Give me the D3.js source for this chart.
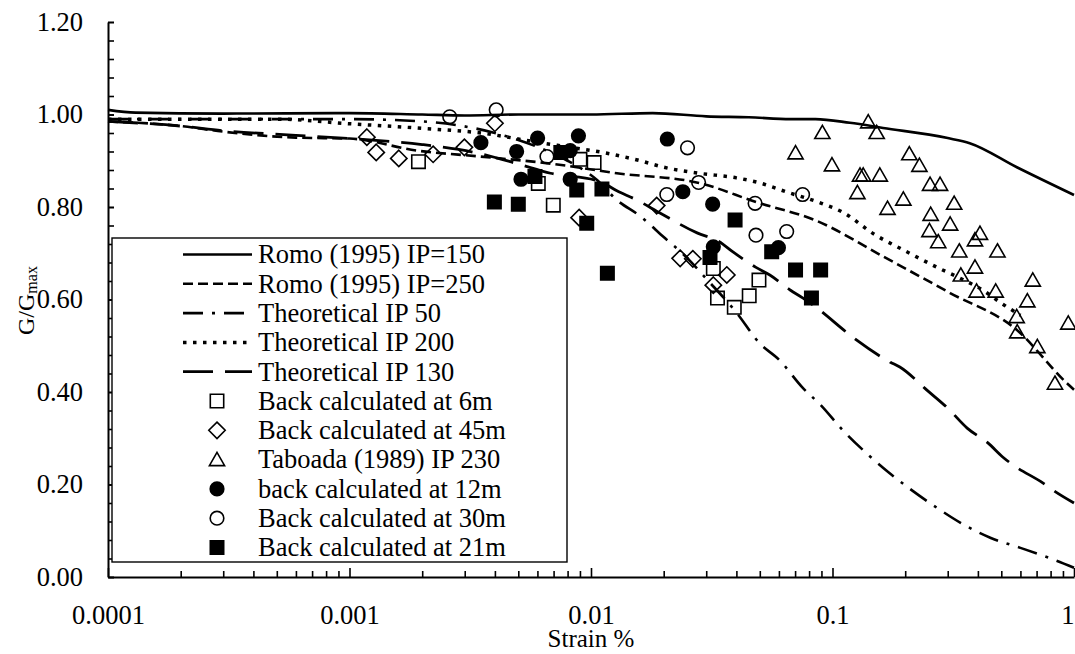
<!DOCTYPE html>
<html><head><meta charset="utf-8">
<script src="https://cdn.jsdelivr.net/npm/d3@7"></script>
<style>
body{margin:0;background:#fff}
svg{display:block}
text{font-family:"Liberation Serif","Times New Roman",serif;fill:#000}
</style>
</head><body>
<svg id="c" width="1075" height="654" font-family="Liberation Serif, Times New Roman, serif"></svg>
<script>
// ---------- data (strain %, G/Gmax) ----------
const romo150 = [[0.0001,1.01],[0.00013,1.004],[0.0003,1.002],[0.001,1.003],[0.002,1.0],[0.003,0.998],[0.005,1.0],[0.01,1.0],[0.018,1.003],[0.03,0.996],[0.045,0.994],[0.067,0.99],[0.085,0.99],[0.118,0.982],[0.162,0.971],[0.3,0.949],[0.37,0.938],[0.58,0.886],[1.0,0.826]];
const romo250 = [[0.0001,0.985],[0.0002,0.975],[0.0003,0.963],[0.0006,0.95],[0.001,0.948],[0.0019,0.922],[0.0035,0.909],[0.007,0.893],[0.0128,0.873],[0.028,0.852],[0.0487,0.81],[0.086,0.77],[0.162,0.693],[0.307,0.614],[0.58,0.534],[0.93,0.42],[1.0,0.405]];
const theo50 = [[0.0001,0.99],[0.0003,0.99],[0.001,0.99],[0.002,0.985],[0.004,0.96],[0.006,0.93],[0.008,0.9],[0.0105,0.86],[0.0128,0.815],[0.016,0.78],[0.02,0.735],[0.025,0.69],[0.03,0.645],[0.04,0.572],[0.05,0.505],[0.06,0.47],[0.075,0.41],[0.09,0.37],[0.11,0.318],[0.14,0.265],[0.17,0.227],[0.21,0.19],[0.27,0.15],[0.35,0.113],[0.45,0.085],[0.6,0.063],[0.8,0.04],[1.0,0.02]];
const theo200 = [[0.0001,0.99],[0.0005,0.99],[0.001,0.98],[0.002,0.97],[0.0035,0.96],[0.006,0.94],[0.0085,0.928],[0.012,0.915],[0.016,0.9],[0.02,0.886],[0.028,0.873],[0.04,0.863],[0.05,0.852],[0.065,0.832],[0.09,0.808],[0.11,0.789],[0.15,0.74],[0.2,0.705],[0.27,0.67],[0.35,0.642],[0.42,0.62],[0.5,0.592],[0.6,0.566]];
const theo130 = [[0.0001,0.985],[0.0002,0.975],[0.0003,0.965],[0.0006,0.955],[0.001,0.948],[0.002,0.935],[0.0035,0.915],[0.005,0.893],[0.0068,0.873],[0.0109,0.855],[0.0128,0.835],[0.0155,0.815],[0.0193,0.787],[0.0275,0.744],[0.034,0.725],[0.0387,0.703],[0.048,0.67],[0.055,0.653],[0.067,0.62],[0.0755,0.603],[0.086,0.582],[0.115,0.528],[0.126,0.512],[0.173,0.465],[0.19,0.454],[0.246,0.404],[0.3,0.365],[0.361,0.322],[0.44,0.29],[0.508,0.259],[0.56,0.242],[0.745,0.203],[0.818,0.188],[1.0,0.16]];

const bc6m = [[0.00193,0.898],[0.00605,0.851],[0.00698,0.804],[0.009,0.903],[0.0103,0.896],[0.0321,0.667],[0.0334,0.603],[0.0392,0.583],[0.0452,0.608],[0.0496,0.642]];
const bc45m = [[0.00118,0.951],[0.00129,0.918],[0.0016,0.905],[0.00222,0.914],[0.00299,0.929],[0.004,0.981],[0.00893,0.777],[0.0187,0.803],[0.0234,0.689],[0.0264,0.688],[0.0321,0.631],[0.0365,0.653]];
const taboada = [[0.0703,0.917],[0.0908,0.961],[0.0995,0.891],[0.1268,0.831],[0.13,0.869],[0.134,0.869],[0.1406,0.984],[0.1524,0.961],[0.157,0.869],[0.169,0.797],[0.1965,0.817],[0.208,0.915],[0.229,0.89],[0.252,0.749],[0.2535,0.849],[0.255,0.784],[0.274,0.725],[0.2788,0.849],[0.307,0.763],[0.319,0.808],[0.335,0.705],[0.34,0.653],[0.389,0.729],[0.389,0.67],[0.395,0.618],[0.408,0.743],[0.474,0.618],[0.482,0.705],[0.579,0.563],[0.582,0.53],[0.641,0.597],[0.675,0.642],[0.705,0.498],[0.834,0.419],[0.947,0.549]];
const bc12m = [[0.0035,0.939],[0.00492,0.92],[0.00513,0.86],[0.00601,0.949],[0.0082,0.922],[0.0082,0.86],[0.00887,0.954],[0.0207,0.947],[0.024,0.833],[0.0319,0.806],[0.0321,0.714],[0.0597,0.712]];
const bc30m = [[0.0026,0.995],[0.00405,1.01],[0.00657,0.909],[0.0206,0.827],[0.0251,0.928],[0.0279,0.853],[0.0478,0.808],[0.0482,0.739],[0.0646,0.747],[0.0752,0.827]];
const bc21m = [[0.00398,0.811],[0.005,0.806],[0.00586,0.866],[0.0075,0.918],[0.00873,0.837],[0.0096,0.765],[0.0111,0.839],[0.01169,0.657],[0.0311,0.691],[0.0395,0.772],[0.056,0.703],[0.0703,0.664],[0.0818,0.603],[0.0893,0.664]];

const xTickValues = [0.0001,0.001,0.01,0.1,1];
const xTickLabels = ["0.0001","0.001","0.01","0.1","1"];
const yTickValues = [0,0.2,0.4,0.6,0.8,1.0,1.2];
const yTickLabels = ["0.00","0.20","0.40","0.60","0.80","1.00","1.20"];
const xTitle = "Strain %";

// ---------- chart ----------
const FF = '"Liberation Serif","Times New Roman",serif';
const svg = d3.select('#c');
const FONT = 26.5;
const x = d3.scaleLog().domain([1e-4,1]).range([108,1074]);
const y = d3.scaleLinear().domain([0,1.2]).range([577,22]);

const xMinor = [];
for (let e=-4;e<0;e++) for (let k=2;k<=9;k++) xMinor.push(+(k*Math.pow(10,e)).toPrecision(3));
const yMinor = d3.range(0,31).map(i=>+(i*0.04).toFixed(2));

const lineStyles = {
  romo150:{dash:null,w:2.6},
  romo250:{dash:"10,5",w:2.6},
  theo50:{dash:"20,9,3,9",w:2.6},
  theo200:{dash:"3.5,6.5",w:3.5},
  theo130:{dash:"30,12",w:2.8}
};
const lineSeries = [
  {key:'romo150',data:romo150,label:"Romo (1995) IP=150"},
  {key:'romo250',data:romo250,label:"Romo (1995) IP=250"},
  {key:'theo50',data:theo50,label:"Theoretical IP 50"},
  {key:'theo200',data:theo200,label:"Theoretical IP 200"},
  {key:'theo130',data:theo130,label:"Theoretical IP 130"}
];
const markerSeries = [
  {data:bc6m,label:"Back calculated at 6m",shape:'square',fill:false},
  {data:bc45m,label:"Back calculated at 45m",shape:'diamond',fill:false},
  {data:taboada,label:"Taboada (1989) IP 230",shape:'triangle',fill:false},
  {data:bc12m,label:"back calculated at 12m",shape:'circle',fill:true},
  {data:bc30m,label:"Back calculated at 30m",shape:'circle',fill:false},
  {data:bc21m,label:"Back calculated at 21m",shape:'square',fill:true}
];
const shapePath = {
  square:"M-6.7,-6.7H6.7V6.7H-6.7Z",
  diamond:"M0,-8.2L8.2,0L0,8.2L-8.2,0Z",
  triangle:"M0,-7.2L7.6,6L-7.6,6Z",
  circle:"M6.8,0A6.8,6.8 0 1 1 -6.8,0A6.8,6.8 0 1 1 6.8,0Z"
};

// axes
function styleAxis(g){
  g.attr('font-family',FF).attr('font-size',FONT);
  g.selectAll('text').attr('font-size',FONT).attr('font-family',FF).attr('fill','#000');
  g.selectAll('line').attr('stroke','#000').attr('stroke-width',1.6);
  g.select('.domain').attr('stroke','#000').attr('stroke-width',2);
}
svg.append('g').attr('transform','translate(0,577)')
  .call(d3.axisBottom(x).tickValues(xMinor).tickSize(-6).tickSizeOuter(0).tickFormat(''))
  .call(g=>{g.select('.domain').remove(); g.selectAll('line').attr('stroke','#000').attr('stroke-width',1.6);});
const xAx = svg.append('g').attr('transform','translate(0,577)')
  .call(d3.axisBottom(x).tickValues(xTickValues).tickSize(-9).tickSizeOuter(0).tickPadding(28)
    .tickFormat((d,i)=>xTickLabels[i]))
  .call(styleAxis);
// keep the last label ("1") inside the picture
xAx.selectAll('.tick text').filter(d=>d===1).attr('text-anchor','end').attr('x',0);

svg.append('g').attr('transform','translate(108,0)')
  .call(d3.axisLeft(y).tickValues(yMinor).tickSize(-6).tickSizeOuter(0).tickFormat(''))
  .call(g=>{g.select('.domain').remove(); g.selectAll('line').attr('stroke','#000').attr('stroke-width',1.6);});
svg.append('g').attr('transform','translate(108,0)')
  .call(d3.axisLeft(y).tickValues(yTickValues).tickSize(-6).tickSizeOuter(0).tickPadding(25)
    .tickFormat((d,i)=>yTickLabels[i]))
  .call(styleAxis);

// lines
const line = d3.line().x(d=>x(d[0])).y(d=>y(d[1])).curve(d3.curveMonotoneX);
lineSeries.forEach(s=>{
  const st = lineStyles[s.key];
  svg.append('path').datum(s.data).attr('d',line)
    .attr('fill','none').attr('stroke','#000').attr('stroke-width',st.w)
    .attr('stroke-dasharray',st.dash);
});

// markers
markerSeries.forEach(s=>{
  svg.append('g').selectAll('path').data(s.data).join('path')
    .attr('transform',d=>`translate(${x(d[0])},${y(d[1])})`)
    .attr('d',shapePath[s.shape])
    .attr('fill',s.fill?'#000':'none')
    .attr('stroke','#000').attr('stroke-width',1.6);
});

// legend
const lg = svg.append('g').attr('font-family',FF);
lg.append('rect').attr('x',112).attr('y',238).attr('width',455).attr('height',324)
  .attr('fill','#fff').attr('stroke','#000').attr('stroke-width',1.4);
const rowY = i=>254.5 + i*29.3;
lineSeries.forEach((s,i)=>{
  const st = lineStyles[s.key];
  lg.append('line').attr('x1',183).attr('x2',252).attr('y1',rowY(i)).attr('y2',rowY(i))
    .attr('stroke','#000').attr('stroke-width',st.w).attr('stroke-dasharray',st.dash);
  lg.append('text').attr('x',258).attr('y',rowY(i)+8.8).attr('font-size',FONT).attr('font-family',FF).text(s.label);
});
markerSeries.forEach((s,j)=>{
  const i = j+lineSeries.length;
  lg.append('path').attr('transform',`translate(217,${rowY(i)})`).attr('d',shapePath[s.shape])
    .attr('fill',s.fill?'#000':'none').attr('stroke','#000').attr('stroke-width',1.6);
  lg.append('text').attr('x',258).attr('y',rowY(i)+8.8).attr('font-size',FONT).attr('font-family',FF).text(s.label);
});

// titles
svg.append('text').attr('x',591).attr('y',647).attr('text-anchor','middle').attr('font-size',25).attr('font-family',FF).text(xTitle);
const yt = svg.append('text').attr('transform','translate(34,335) rotate(-90)').attr('font-size',24).attr('font-family',FF);
yt.append('tspan').text('G/G');
yt.append('tspan').attr('font-size',16).attr('dy',3).text('max');
</script>
</body></html>
